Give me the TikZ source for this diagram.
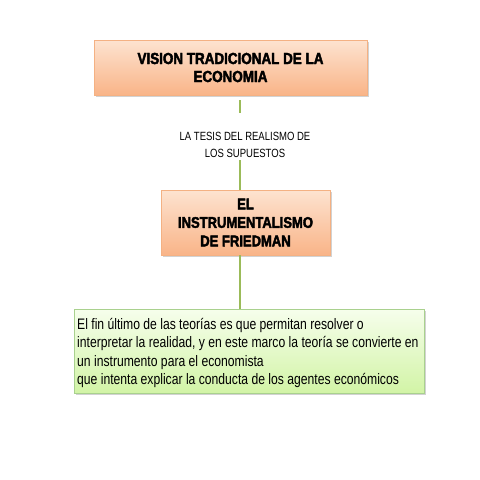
\documentclass[tikz,border=0pt]{standalone}
\usepackage{fontspec}
\setmainfont{Liberation Sans}
\newfontfamily\narrowfont[FakeStretch=0.80]{Liberation Sans}
\newfontfamily\headfont[FakeStretch=0.84,FakeBold=2.6]{Liberation Sans Bold}
\usetikzlibrary{shadows}
\definecolor{orTop}{HTML}{FDE3D0}
\definecolor{orBot}{HTML}{F9B488}
\definecolor{orLine}{HTML}{F4B183}
\definecolor{grTop}{HTML}{F6FEEC}
\definecolor{grBot}{HTML}{D2F4A6}
\definecolor{grLine}{HTML}{A9D18E}
\definecolor{conn}{HTML}{9BBB59}
\tikzset{
  orbox/.style={draw=orLine, line width=0.8pt, top color=orTop, bottom color=orBot,
    drop shadow={shadow xshift=1.5pt, shadow yshift=-2pt, opacity=0.35},
    align=center, inner sep=0pt},
  grbox/.style={draw=grLine, line width=0.8pt, top color=grTop, bottom color=grBot,
    drop shadow={shadow xshift=1.5pt, shadow yshift=-2pt, opacity=0.35},
    align=left, inner sep=0pt},
  lbl/.style={align=center, font=\narrowfont\fontsize{11.9}{17}\selectfont},
  link/.style={draw=conn, line width=1.6pt}
}
\begin{document}
\begin{tikzpicture}[x=1pt,y=-1pt]
\useasboundingbox[fill=white] (0,0) rectangle (480,480);
\node[orbox, minimum width=273pt, minimum height=55pt,
  font=\headfont\fontsize{16}{18}\selectfont] (b1) at (230.5,67.5)
  {VISION TRADICIONAL DE LA\\ECONOMIA};
\node[lbl] (t) at (245,145) {LA TESIS DEL REALISMO DE\\LOS SUPUESTOS};
\node[orbox, minimum width=169pt, minimum height=65pt,
  font=\headfont\fontsize{15.5}{18.5}\selectfont] (b2) at (245.5,222.5)
  {EL\\INSTRUMENTALISMO\\DE FRIEDMAN};
\node[grbox, minimum width=350pt, minimum height=84pt] (b3) at (249,351) {};
\node[anchor=north west, align=left, inner sep=0pt,
  font=\narrowfont\fontsize{15.2}{18.4}\selectfont] (txt) at (77,318)
  {El fin último de las teorías es que permitan resolver o\\
   interpretar la realidad, y en este marco la teoría se convierte en\\
   un instrumento para el economista\\
   que intenta explicar la conducta de los agentes económicos};
\coordinate (c1a) at (240,100);
\coordinate (c1b) at (240,113);
\coordinate (c2a) at (240,160);
\draw[link] (c1a) -- (c1b);
\draw[link] (c2a) -- (c2a |- b2.north);
\draw[link] (b2.south -| c2a) -- (c2a |- b3.north);
\end{tikzpicture}
\end{document}
